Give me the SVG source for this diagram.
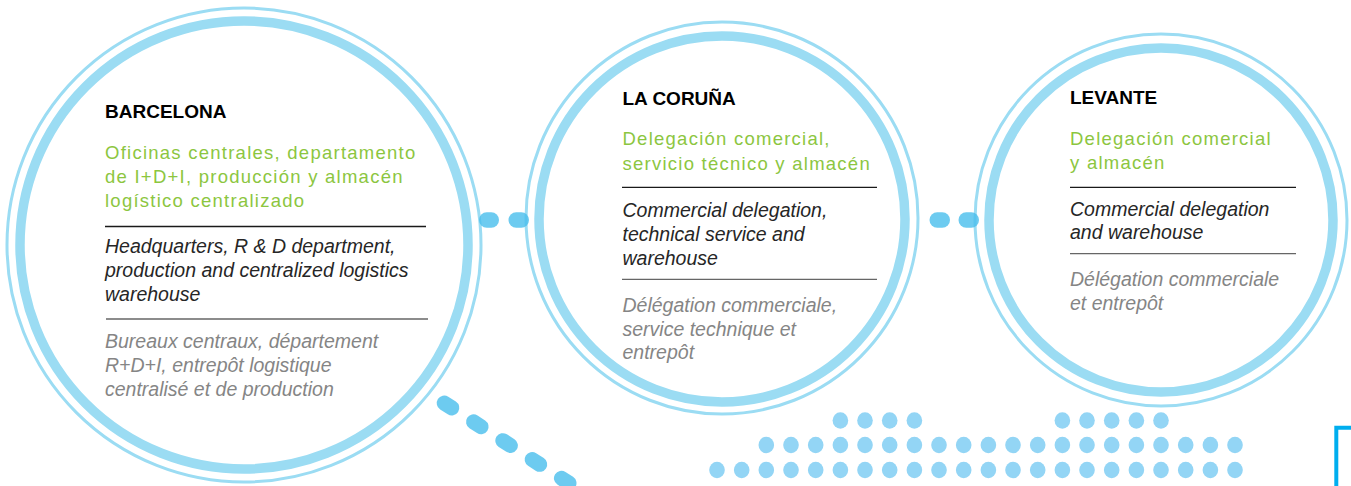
<svg xmlns="http://www.w3.org/2000/svg" width="1351" height="486" viewBox="0 0 1351 486">
<style>
.thick{fill:none;stroke:#9BDCF3;stroke-width:9.5}
.thin{fill:none;stroke:#9BDCF3;stroke-width:3}
text{font-family:"Liberation Sans",Arial,Helvetica,sans-serif}
.title{font-weight:bold;font-size:19px;fill:#000}
.es{font-size:18.5px;letter-spacing:1.25px;fill:#8CC63F}
.en{font-style:italic;font-size:19.5px;fill:#262626}
.fr{font-style:italic;font-size:19.5px;fill:#858585}
.sep1{stroke:#1a1a1a;stroke-width:1.3}
.sep2{stroke:#666;stroke-width:1.3}
.link{fill:#48BEEC;fill-opacity:0.8}
.dot{fill:#93D5F5}
.bracket{fill:none;stroke:#00AEEF;stroke-width:4}
</style>

<g id="barcelona">
<circle class="thin" cx="244" cy="245" r="237"/>
<circle class="thick" cx="244" cy="245" r="224"/>
<text class="title" x="105" y="118">BARCELONA</text>
<text class="es"><tspan x="105" y="159">Oficinas centrales, departamento</tspan><tspan x="105" y="183">de I+D+I, producción y almacén</tspan><tspan x="105" y="207">logístico centralizado</tspan></text>
<line class="sep1" x1="105" y1="226.5" x2="426" y2="226.5"/>
<text class="en"><tspan x="105" y="253">Headquarters, R &amp; D department,</tspan><tspan x="105" y="277">production and centralized logistics</tspan><tspan x="105" y="301">warehouse</tspan></text>
<line class="sep2" x1="106" y1="319" x2="428" y2="319"/>
<text class="fr"><tspan x="105" y="348">Bureaux centraux, département</tspan><tspan x="105" y="372">R+D+I, entrepôt logistique</tspan><tspan x="105" y="396">centralisé et de production</tspan></text>
</g>

<g id="la-coruna">
<circle class="thin" cx="722" cy="218" r="196"/>
<circle class="thick" cx="722" cy="219" r="183"/>
<text class="title" x="622.5" y="105">LA CORUÑA</text>
<text class="es"><tspan x="622.5" y="145">Delegación comercial,</tspan><tspan x="622.5" y="169.5">servicio técnico y almacén</tspan></text>
<line class="sep1" x1="622" y1="187.3" x2="877" y2="187.3"/>
<text class="en"><tspan x="622.5" y="217">Commercial delegation,</tspan><tspan x="622.5" y="241">technical service and</tspan><tspan x="622.5" y="264.5">warehouse</tspan></text>
<line class="sep2" x1="622" y1="279.3" x2="877" y2="279.3"/>
<text class="fr"><tspan x="622.5" y="311.5">Délégation commerciale,</tspan><tspan x="622.5" y="335.5">service technique et</tspan><tspan x="622.5" y="359.3">entrepôt</tspan></text>
</g>

<g id="levante">
<circle class="thin" cx="1161" cy="220" r="186"/>
<circle class="thick" cx="1161" cy="220" r="172"/>
<text class="title" x="1070" y="104">LEVANTE</text>
<text class="es"><tspan x="1070" y="145">Delegación comercial</tspan><tspan x="1070" y="169.3">y almacén</tspan></text>
<line class="sep1" x1="1070" y1="187.3" x2="1296" y2="187.3"/>
<text class="en"><tspan x="1070" y="216">Commercial delegation</tspan><tspan x="1070" y="239.3">and warehouse</tspan></text>
<line class="sep2" x1="1070" y1="253.7" x2="1296" y2="253.7"/>
<text class="fr"><tspan x="1070" y="285.7">Délégation commerciale</tspan><tspan x="1070" y="310">et entrepôt</tspan></text>
</g>

<g id="connectors">
<rect class="link" x="479" y="212.3" width="20" height="15.5" rx="7.75"/>
<rect class="link" x="508.5" y="212.3" width="20.5" height="15.5" rx="7.75"/>
<rect class="link" x="929.5" y="212.3" width="20.5" height="15.5" rx="7.75"/>
<rect class="link" x="958.5" y="212.3" width="20.5" height="15.5" rx="7.75"/>
<rect class="link" x="-12" y="-7.5" width="24" height="15" rx="7.5" transform="translate(448 405.5) rotate(32.7)"/>
<rect class="link" x="-12" y="-7.5" width="24" height="15" rx="7.5" transform="translate(477.3 424.3) rotate(32.7)"/>
<rect class="link" x="-12" y="-7.5" width="24" height="15" rx="7.5" transform="translate(506.6 443.1) rotate(32.7)"/>
<rect class="link" x="-12" y="-7.5" width="24" height="15" rx="7.5" transform="translate(535.9 461.9) rotate(32.7)"/>
<rect class="link" x="-12" y="-7.5" width="24" height="15" rx="7.5" transform="translate(565.2 480.7) rotate(32.7)"/>
</g>

<g id="dots">
<ellipse class="dot" cx="840.4" cy="420.5" rx="7.8" ry="8.3"/>
<ellipse class="dot" cx="865" cy="420.5" rx="7.8" ry="8.3"/>
<ellipse class="dot" cx="889.7" cy="420.5" rx="7.8" ry="8.3"/>
<ellipse class="dot" cx="914.4" cy="420.5" rx="7.8" ry="8.3"/>
<ellipse class="dot" cx="1062.4" cy="420.5" rx="7.8" ry="8.3"/>
<ellipse class="dot" cx="1087" cy="420.5" rx="7.8" ry="8.3"/>
<ellipse class="dot" cx="1111.7" cy="420.5" rx="7.8" ry="8.3"/>
<ellipse class="dot" cx="1136.4" cy="420.5" rx="7.8" ry="8.3"/>
<ellipse class="dot" cx="1161" cy="420.5" rx="7.8" ry="8.3"/>

<ellipse class="dot" cx="766.3" cy="445" rx="7.8" ry="8.3"/>
<ellipse class="dot" cx="791" cy="445" rx="7.8" ry="8.3"/>
<ellipse class="dot" cx="815.7" cy="445" rx="7.8" ry="8.3"/>
<ellipse class="dot" cx="840.4" cy="445" rx="7.8" ry="8.3"/>
<ellipse class="dot" cx="865" cy="445" rx="7.8" ry="8.3"/>
<ellipse class="dot" cx="889.7" cy="445" rx="7.8" ry="8.3"/>
<ellipse class="dot" cx="914.4" cy="445" rx="7.8" ry="8.3"/>
<ellipse class="dot" cx="939" cy="445" rx="7.8" ry="8.3"/>
<ellipse class="dot" cx="963.7" cy="445" rx="7.8" ry="8.3"/>
<ellipse class="dot" cx="988.4" cy="445" rx="7.8" ry="8.3"/>
<ellipse class="dot" cx="1013" cy="445" rx="7.8" ry="8.3"/>
<ellipse class="dot" cx="1037.7" cy="445" rx="7.8" ry="8.3"/>
<ellipse class="dot" cx="1062.4" cy="445" rx="7.8" ry="8.3"/>
<ellipse class="dot" cx="1087" cy="445" rx="7.8" ry="8.3"/>
<ellipse class="dot" cx="1111.7" cy="445" rx="7.8" ry="8.3"/>
<ellipse class="dot" cx="1136.4" cy="445" rx="7.8" ry="8.3"/>
<ellipse class="dot" cx="1161" cy="445" rx="7.8" ry="8.3"/>
<ellipse class="dot" cx="1185.7" cy="445" rx="7.8" ry="8.3"/>
<ellipse class="dot" cx="1210.4" cy="445" rx="7.8" ry="8.3"/>
<ellipse class="dot" cx="1235" cy="445" rx="7.8" ry="8.3"/>

<ellipse class="dot" cx="717" cy="470" rx="7.8" ry="8.3"/>
<ellipse class="dot" cx="741.7" cy="470" rx="7.8" ry="8.3"/>
<ellipse class="dot" cx="766.3" cy="470" rx="7.8" ry="8.3"/>
<ellipse class="dot" cx="791" cy="470" rx="7.8" ry="8.3"/>
<ellipse class="dot" cx="815.7" cy="470" rx="7.8" ry="8.3"/>
<ellipse class="dot" cx="840.4" cy="470" rx="7.8" ry="8.3"/>
<ellipse class="dot" cx="865" cy="470" rx="7.8" ry="8.3"/>
<ellipse class="dot" cx="889.7" cy="470" rx="7.8" ry="8.3"/>
<ellipse class="dot" cx="914.4" cy="470" rx="7.8" ry="8.3"/>
<ellipse class="dot" cx="939" cy="470" rx="7.8" ry="8.3"/>
<ellipse class="dot" cx="963.7" cy="470" rx="7.8" ry="8.3"/>
<ellipse class="dot" cx="988.4" cy="470" rx="7.8" ry="8.3"/>
<ellipse class="dot" cx="1013" cy="470" rx="7.8" ry="8.3"/>
<ellipse class="dot" cx="1037.7" cy="470" rx="7.8" ry="8.3"/>
<ellipse class="dot" cx="1062.4" cy="470" rx="7.8" ry="8.3"/>
<ellipse class="dot" cx="1087" cy="470" rx="7.8" ry="8.3"/>
<ellipse class="dot" cx="1111.7" cy="470" rx="7.8" ry="8.3"/>
<ellipse class="dot" cx="1136.4" cy="470" rx="7.8" ry="8.3"/>
<ellipse class="dot" cx="1161" cy="470" rx="7.8" ry="8.3"/>
<ellipse class="dot" cx="1185.7" cy="470" rx="7.8" ry="8.3"/>
<ellipse class="dot" cx="1210.4" cy="470" rx="7.8" ry="8.3"/>
<ellipse class="dot" cx="1235" cy="470" rx="7.8" ry="8.3"/>
</g>

<path class="bracket" d="M1336.3 486 V427.8 H1351"/>
</svg>
